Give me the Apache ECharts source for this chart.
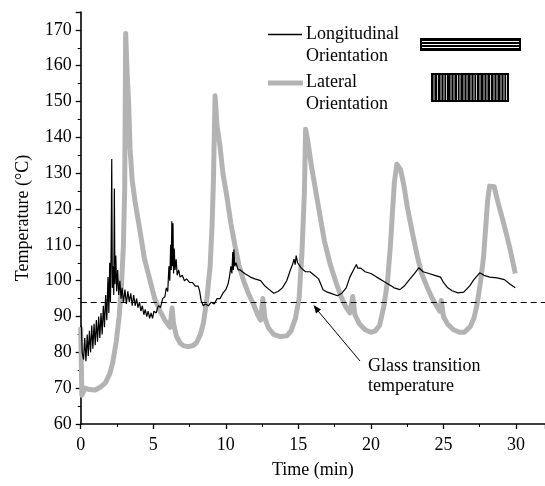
<!DOCTYPE html>
<html>
<head>
<meta charset="utf-8">
<script src="https://cdn.jsdelivr.net/npm/echarts@6/dist/echarts.min.js"></script>
<style>html,body{margin:0;padding:0;background:#fff}#c{width:545px;height:486px}</style>
</head>
<body>
<div id="c"></div>
<script>
// Longitudinal orientation: [time (min), temperature (°C)]
const longitudinal = [
[0.05,87.5],[0.1,80],[0.2,78],[0.28,84],[0.36,77.5],[0.45,85],[0.52,79],[0.6,86],[0.68,80],[0.76,87.5],
[0.84,81],[0.92,88],[1.0,82],[1.08,89],[1.16,83],[1.24,90],[1.32,84],[1.4,91],[1.48,85],[1.56,93],
[1.64,87],[1.72,96],[1.8,89],[1.88,101],[1.94,91],[2.0,105],[2.05,94],[2.1,110],[2.14,134],[2.18,98],
[2.24,104],[2.28,96],[2.32,125.7],[2.36,99],[2.42,107],[2.48,97],[2.55,103],[2.62,96],[2.7,100],[2.78,95],
[2.85,98],[2.95,94],[3.05,97.5],[3.15,93.5],[3.25,97],[3.35,94],[3.45,96.5],[3.55,93],[3.65,96],[3.75,93],
[3.85,95],[3.95,92.5],[4.05,94],[4.15,91.5],[4.25,93],[4.35,90.5],[4.45,92],[4.55,90],[4.65,91.5],[4.75,89.5],
[4.85,91],[4.95,89.5],[5.05,91.5],[5.2,91],[5.35,93],[5.5,92.5],[5.65,95],[5.8,95.5],[5.9,98],[6.0,97],
[6.08,104],[6.14,100],[6.2,110],[6.24,103],[6.28,116.6],[6.32,104],[6.36,116],[6.4,102],[6.45,109],[6.5,103],
[6.58,106],[6.65,101.5],[6.75,103],[6.85,101],[7.0,101.5],[7.15,100],[7.3,100.5],[7.5,99.5],[7.7,99.5],[7.9,98.5],
[8.1,98.5],[8.2,97],[8.3,94.5],[8.45,93],[8.6,93.5],[8.8,93],[9.0,94],[9.2,93.5],[9.4,95],[9.6,95],
[9.8,96.5],[10.0,97.5],[10.15,99],[10.25,101],[10.35,104],[10.42,102],[10.48,108],[10.52,103],[10.56,108.7],[10.62,104],
[10.7,105],[10.85,103],[11.0,103],[11.3,102],[11.7,101],[12.0,100.5],[12.4,100],[12.7,98.5],[13.0,97.5],[13.3,96.5],
[13.6,97],[13.9,98],[14.2,100],[14.45,103],[14.6,104.5],[14.7,106],[14.78,104.5],[14.85,107],[14.95,105],[15.05,105.5],
[15.2,103.5],[15.5,102.5],[15.8,102.5],[16.1,101.5],[16.4,100.5],[16.55,99],[16.7,97.5],[17.0,96.8],[17.3,96.4],[17.7,95.8],
[18.0,96.5],[18.3,98],[18.55,101],[18.8,103],[19.0,104.5],[19.1,103.5],[19.3,103.5],[19.6,102.5],[20.0,102],[20.4,101],
[20.9,99.8],[21.3,98.8],[21.6,98],[22.0,97.5],[22.3,98.5],[22.6,100],[23.0,102],[23.3,103.6],[23.6,102.5],[24.0,102],
[24.4,101.5],[24.8,101],[25.0,99.5],[25.3,98],[25.6,97.2],[26.0,96.6],[26.4,96.8],[26.8,98.5],[27.1,100.3],[27.5,102.2],
[27.8,101.5],[28.2,101],[28.7,100.8],[29.2,100.3],[29.6,99],[29.95,98]
];
// Lateral orientation: [time (min), temperature (°C)]
const lateral = [
[0,87],[0.08,68],[0.3,70],[0.6,69.6],[1.0,69.5],[1.4,70.4],[1.7,71.5],[2.0,74],[2.2,77],[2.45,83],
[2.65,90],[2.8,98],[2.94,109.6],[3.03,125],[3.1,169],[3.2,158],[3.3,150],[3.4,137],[3.55,128],[3.75,122],
[4.09,113.8],[4.4,106],[4.78,100],[5.1,95],[5.47,91.5],[5.8,89],[6.16,87],[6.3,92.4],[6.4,88],[6.6,84.5],
[6.85,82.6],[7.1,81.8],[7.42,81.6],[7.75,81.9],[8.0,82.8],[8.25,85],[8.46,88.2],[8.7,95],[8.92,104],[9.05,115],
[9.15,128.3],[9.26,151.6],[9.4,143],[9.6,137.6],[9.8,130],[10.07,123.6],[10.35,116],[10.64,109.6],[10.9,104.5],[11.2,100.3],
[11.55,96.5],[11.9,93.5],[12.2,90.5],[12.4,89],[12.55,95],[12.7,89.5],[12.94,86.8],[13.3,85],[13.75,84.4],[14.2,84.6],
[14.5,86],[14.8,89.5],[15.05,95],[15.25,108],[15.42,125],[15.5,142.3],[15.65,139],[15.9,132],[16.2,125],[16.5,118],
[16.8,111],[17.2,104.5],[17.6,99.5],[17.95,95.5],[18.3,92.5],[18.55,91],[18.75,95.6],[18.9,90.5],[19.2,88],[19.6,86.3],
[20.0,85.6],[20.3,86],[20.6,87.5],[20.9,93],[21.15,100],[21.35,110],[21.5,120],[21.62,127.5],[21.79,132.5],[22.05,131],
[22.3,126],[22.5,120.8],[22.85,113.5],[23.2,106.8],[23.5,102],[23.86,98.4],[24.2,95.3],[24.55,92.8],[24.75,91.5],[24.85,94.5],
[25.0,90],[25.3,87.8],[25.7,86.3],[26.1,85.6],[26.45,85.6],[26.85,87.2],[27.1,89.5],[27.3,93],[27.55,99.5],[27.77,106.8],
[27.95,117],[28.05,122.5],[28.18,126.4],[28.5,126.2],[28.75,122],[29.14,116.2],[29.4,112],[29.6,108.7],[29.95,102]
];
const glassTransition = 94;
const xTicks = [0, 5, 10, 15, 20, 25, 30];
const yTicks = [60, 70, 80, 90, 100, 110, 120, 130, 140, 150, 160, 170];
const seriesNames = ['Longitudinal\nOrientation', 'Lateral\nOrientation'];
const annotationText = 'Glass transition\ntemperature';

const FONT = '"Liberation Serif", "Times New Roman", serif';
const chart = echarts.init(document.getElementById('c'), null, {renderer: 'canvas'});
const whiteV = [434,437.5,441,444,446.5,451,454,457.5,460,464,467,471,474,476.5,480,484,487,490.5,494,497,501,504,506.5];
const graphics = [
  {type:'line', shape:{x1:268,y1:34.5,x2:302,y2:34.5}, style:{stroke:'#000', lineWidth:1.3}},
  {type:'text', left:306, top:23, style:{text:seriesNames[0], font:'18px '+FONT, fill:'#000', lineHeight:22.5}},
  {type:'line', shape:{x1:268,y1:83,x2:303,y2:83}, style:{stroke:'#b3b3b3', lineWidth:5}},
  {type:'text', left:306, top:71, style:{text:seriesNames[1], font:'18px '+FONT, fill:'#000', lineHeight:22.5}},
  {type:'rect', shape:{x:420,y:38,width:101,height:13}, style:{fill:'#000'}},
  {type:'line', shape:{x1:422,y1:41.5,x2:519,y2:41.5}, style:{stroke:'#fff', lineWidth:1}},
  {type:'line', shape:{x1:422,y1:44.5,x2:519,y2:44.5}, style:{stroke:'#fff', lineWidth:1}},
  {type:'line', shape:{x1:422,y1:47.5,x2:519,y2:47.5}, style:{stroke:'#fff', lineWidth:1}},
  {type:'rect', shape:{x:431,y:73,width:78,height:29}, style:{fill:'#000'}},
  {type:'text', left:368, top:356, style:{text:annotationText, font:'18px '+FONT, fill:'#000', lineHeight:20.5}},
  {type:'line', shape:{x1:360,y1:361,x2:316,y2:308.5}, style:{stroke:'#000', lineWidth:1}},
  {type:'polygon', shape:{points:[[313.5,305],[321,309.5],[316,313.5]]}, style:{fill:'#000'}}
];
whiteV.forEach(x => graphics.push({type:'line', shape:{x1:x,y1:75,x2:x,y2:100}, style:{stroke:'#fff', lineWidth:0.8}}));

chart.setOption({
  animation: false,
  backgroundColor: '#fff',
  grid: {left: 80.7, right: 0, top: 12, bottom: 62, outerBoundsMode: 'none', containLabel: false},
  xAxis: {
    type: 'value', min: 0, max: 32, interval: 5,
    name: 'Time (min)', nameLocation: 'middle', nameGap: 37,
    nameTextStyle: {fontFamily: FONT, fontSize: 18, color: '#000'},
    axisLine: {show: true, onZero: false, lineStyle: {color: '#000', width: 1.6}},
    axisTick: {show: true, length: 5, lineStyle: {color: '#000', width: 1.3}},
    minorTick: {show: true, splitNumber: 2, length: 3, lineStyle: {color: '#000', width: 1}},
    axisLabel: {margin: 12, fontFamily: FONT, fontSize: 18, color: '#000',
      formatter: v => xTicks.includes(v) ? String(v) : ''},
    splitLine: {show: false}, minorSplitLine: {show: false}
  },
  yAxis: {
    type: 'value', min: 60, max: 175, interval: 10,
    name: 'Temperature (°C)', nameLocation: 'middle', nameGap: 48,
    nameTextStyle: {fontFamily: FONT, fontSize: 18, color: '#000'},
    axisLine: {show: true, onZero: false, lineStyle: {color: '#000', width: 1.6}},
    axisTick: {show: true, length: 5, lineStyle: {color: '#000', width: 1.3}},
    minorTick: {show: true, splitNumber: 2, length: 3, lineStyle: {color: '#000', width: 1}},
    axisLabel: {margin: 9, fontFamily: FONT, fontSize: 18, color: '#000',
      formatter: v => yTicks.includes(v) ? String(v) : ''},
    splitLine: {show: false}, minorSplitLine: {show: false}
  },
  series: [
    {
      name: 'Lateral Orientation', type: 'line', data: lateral, showSymbol: false, symbol: 'none',
      lineStyle: {color: '#b3b3b3', width: 5, join: 'round'}, z: 2
    },
    {
      name: 'Longitudinal Orientation', type: 'line', data: longitudinal, showSymbol: false, symbol: 'none',
      lineStyle: {color: '#000', width: 1.2}, z: 3,
      markLine: {
        silent: true, symbol: ['none', 'none'], label: {show: false},
        lineStyle: {color: '#000', width: 1.2, type: [6, 4]},
        data: [{yAxis: glassTransition}]
      }
    }
  ],
  graphic: graphics
});
</script>
</body>
</html>
